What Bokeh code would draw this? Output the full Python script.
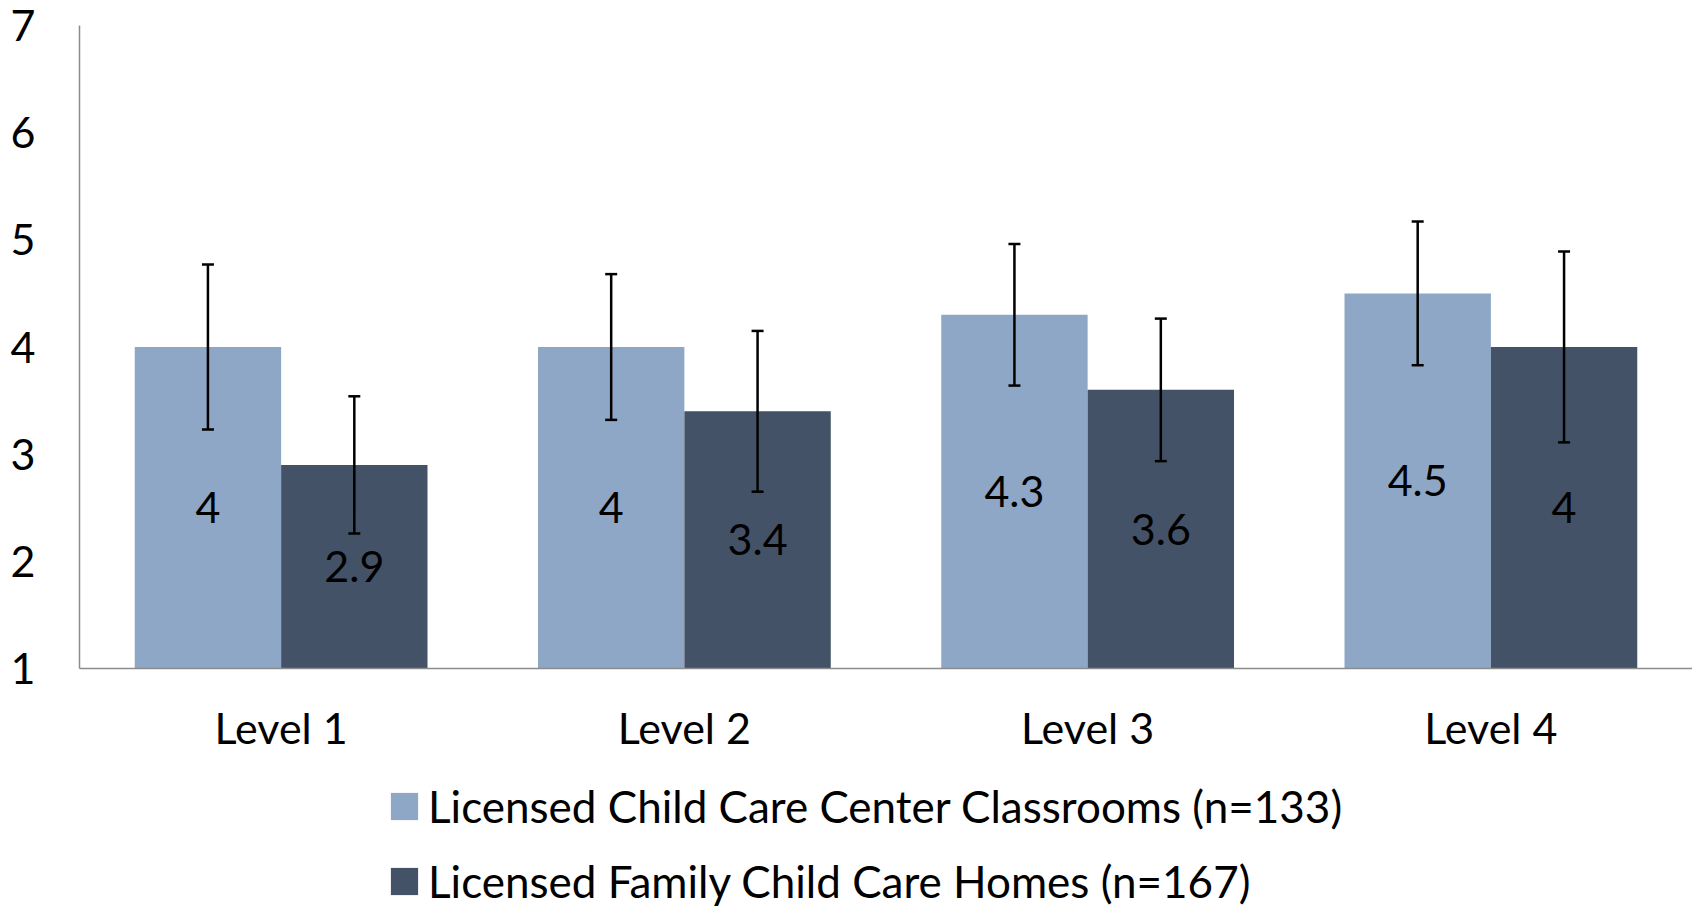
from bokeh.plotting import figure
from bokeh.layouts import column
from bokeh.models import (ColumnDataSource, FactorRange, Range1d, FixedTicker,
                          Whisker, TeeHead, Legend, LegendItem)
from bokeh.transform import dodge
from bokeh.core.properties import value
from bokeh.embed import file_html
from bokeh.resources import INLINE

levels = ["Level 1", "Level 2", "Level 3", "Level 4"]
center_vals = [4.0, 4.0, 4.3, 4.5]
center_err = [0.77, 0.68, 0.66, 0.67]
family_vals = [2.9, 3.4, 3.6, 4.0]
family_err = [0.64, 0.75, 0.665, 0.89]
center_name = "Licensed Child Care Center Classrooms (n=133)"
family_name = "Licensed Family Child Care Homes (n=167)"
y_ticks = [1, 2, 3, 4, 5, 6, 7]

LIGHT = "#8EA7C6"
DARK = "#435266"
FONT = "Lato"
FS = "43px"
OFF = 0.1815
BW = 0.363


def make_source(vals, errs):
    return ColumnDataSource(dict(
        level=levels,
        val=vals,
        upper=[v + e for v, e in zip(vals, errs)],
        lower=[v - e for v, e in zip(vals, errs)],
        mid=[(1 + v) / 2 for v in vals],
        lab=[("%g" % v) for v in vals],
    ))


src_c = make_source(center_vals, center_err)
src_f = make_source(family_vals, family_err)

p = figure(width=1692, height=758, output_backend="svg", toolbar_location=None,
           x_range=FactorRange(factors=levels, range_padding=0),
           y_range=Range1d(1, 7),
           min_border_left=79, min_border_right=0, min_border_top=25,
           min_border_bottom=90)
p.outline_line_color = None
p.xgrid.grid_line_color = None
p.ygrid.grid_line_color = None
p.background_fill_color = "white"

p.vbar(x=dodge("level", -OFF, range=p.x_range), top="val", bottom=1, width=BW,
       source=src_c, fill_color=LIGHT, line_color=None)
p.vbar(x=dodge("level", OFF, range=p.x_range), top="val", bottom=1, width=BW,
       source=src_f, fill_color=DARK, line_color=None)

for src, off in ((src_c, -OFF), (src_f, OFF)):
    p.text(x=dodge("level", off, range=p.x_range), y="mid", text="lab", source=src,
           text_font=value(FONT), text_font_size=FS, text_color="black",
           text_align="center", text_baseline="middle")
    w = Whisker(source=src, base=dodge("level", off, range=p.x_range),
                upper="upper", lower="lower", line_color="black", line_width=2.5,
                level="overlay",
                upper_head=TeeHead(size=12, line_color="black", line_width=2.5),
                lower_head=TeeHead(size=12, line_color="black", line_width=2.5))
    p.add_layout(w)

for ax in (p.xaxis[0], p.yaxis[0]):
    ax.axis_line_color = "#8c8c8c"
    ax.axis_line_width = 1.5
    ax.major_tick_line_color = None
    ax.minor_tick_line_color = None
    ax.major_label_text_font = FONT
    ax.major_label_text_font_size = FS
    ax.major_label_text_color = "black"

p.yaxis[0].ticker = FixedTicker(ticks=y_ticks)
p.yaxis[0].major_label_standoff = 38
p.xaxis[0].major_label_standoff = 27

# legend strip below the chart (helper renderers sit outside the visible range)
leg = figure(width=1692, height=149, output_backend="svg", toolbar_location=None,
             x_range=Range1d(0, 1), y_range=Range1d(0, 1),
             x_axis_type=None, y_axis_type=None, min_border=0)
leg.outline_line_color = None
leg.xgrid.visible = False
leg.ygrid.visible = False
r_c = leg.vbar(x=[-5], top=[-5], bottom=-6, width=0.1, fill_color=LIGHT, line_color=None)
r_f = leg.vbar(x=[-5], top=[-5], bottom=-6, width=0.1, fill_color=DARK, line_color=None)

legend = Legend(items=[LegendItem(label=center_name, renderers=[r_c]),
                       LegendItem(label=family_name, renderers=[r_f])],
                orientation="vertical", location=(308, 0),
                glyph_width=34, glyph_height=34, label_standoff=7,
                label_text_font=FONT, label_text_font_size="44px",
                label_text_color="black", label_height=46, spacing=23,
                margin=0, padding=0, border_line_color=None,
                background_fill_alpha=0)
leg.add_layout(legend, "center")

layout = column(p, leg, spacing=0)
open("out.html", "w").write(file_html(layout, INLINE))
